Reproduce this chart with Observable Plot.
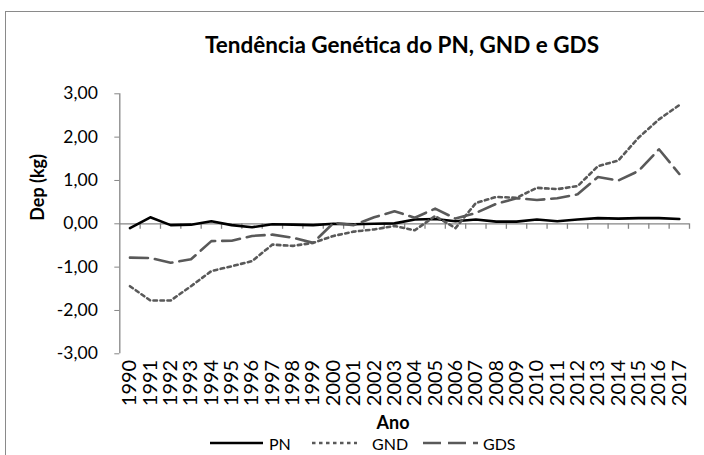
<!DOCTYPE html>
<html>
<head>
<meta charset="utf-8">
<script src="https://cdn.jsdelivr.net/npm/d3@7"></script>
<script src="https://cdn.jsdelivr.net/npm/@observablehq/plot@0.6"></script>
<style>
  html, body { margin: 0; padding: 0; background: #fff; overflow: hidden; }
  #wrap { position: relative; width: 704px; height: 455px; overflow: hidden; font-family: Lato, sans-serif; color: #000; }
  #frame { position: absolute; left: 5px; top: 11px; width: 800px; height: 800px; border: 1.5px solid #8a8a8a; box-sizing: border-box; }
  #title { position: absolute; left: 0; top: 34px; width: 804px; text-align: center; font-weight: bold; font-size: 22.5px; line-height: 22.5px; white-space: nowrap; }
  #chart { position: absolute; left: 0; top: 80px; }
  #ano { position: absolute; left: 0; top: 413px; width: 786px; text-align: center; font-weight: bold; font-size: 18px; line-height: 18px; }
  .leg { position: absolute; top: 433px; height: 20px; display: flex; align-items: center; font-size: 16px; }
  .leg svg { display: block; }
</style>
</head>
<body>
<div id="wrap">
  <div id="frame"></div>
  <div id="title">Tendência Genética do PN, GND e GDS</div>
  <div id="chart"></div>
  <div id="ano">Ano</div>
  <div id="legend"></div>
</div>
<script>
const years = [1990,1991,1992,1993,1994,1995,1996,1997,1998,1999,2000,2001,2002,2003,2004,2005,2006,2007,2008,2009,2010,2011,2012,2013,2014,2015,2016,2017];
const pn  = [-0.10, 0.15,-0.03,-0.02, 0.06,-0.03,-0.08,-0.01,-0.02,-0.03, 0.00,-0.01, 0.00, 0.01, 0.10, 0.11, 0.06, 0.10, 0.05, 0.05, 0.10, 0.06, 0.10, 0.13, 0.12, 0.13, 0.13, 0.11];
const gnd = [-1.44,-1.77,-1.77,-1.44,-1.09,-0.98,-0.86,-0.48,-0.51,-0.44,-0.28,-0.18,-0.13,-0.05,-0.15, 0.18,-0.10, 0.48, 0.62, 0.60, 0.83, 0.80, 0.87, 1.33, 1.46, 1.99, 2.41, 2.74];
const gds = [-0.78,-0.79,-0.90,-0.82,-0.40,-0.39,-0.28,-0.25,-0.32,-0.44, 0.02,-0.03, 0.15, 0.29, 0.14, 0.35, 0.12, 0.25, 0.46, 0.59, 0.55, 0.59, 0.68, 1.08, 1.00, 1.22, 1.72, 1.15];
const yTicks = [-3,-2,-1,0,1,2,3];
const seriesNames = ["PN", "GND", "GDS"];

const axisGray = "#868686";
const lineGray = "#595959";
const styles = {
  PN:  {stroke: "#000", strokeWidth: 2.6, strokeDasharray: null},
  GND: {stroke: lineGray, strokeWidth: 2.6, strokeDasharray: "3.5,3.5"},
  GDS: {stroke: lineGray, strokeWidth: 2.6, strokeDasharray: "18,7"}
};
const values = {PN: pn, GND: gnd, GDS: gds};
const boundaries = d3.range(years.length + 1).map(i => years[0] - 0.5 + i);
const fmt = d => d.toFixed(2).replace(".", ",");

const chart = Plot.plot({
  width: 704,
  height: 355,
  marginLeft: 119.3,
  marginRight: 15,
  marginTop: 13.3,
  marginBottom: 81.7,
  style: {fontFamily: "Lato, sans-serif", background: "transparent", color: "#000", overflow: "visible"},
  x: {type: "linear", domain: [boundaries[0], boundaries[boundaries.length - 1]]},
  y: {domain: [yTicks[0], yTicks[yTicks.length - 1]]},
  marks: [
    Plot.ruleX([boundaries[0]], {y1: yTicks[0], y2: yTicks[yTicks.length - 1], stroke: axisGray, strokeWidth: 1.3}),
    Plot.ruleY([0], {stroke: axisGray, strokeWidth: 1.3}),
    Plot.ruleX(boundaries.slice(1), {y1: 0, y2: 0, insetBottom: -5.5, stroke: axisGray, strokeWidth: 1.3}),
    Plot.axisY({ticks: yTicks, tickFormat: fmt, tickSize: 5, tickPadding: 17, stroke: axisGray, fill: "#000", fontSize: 17.5, label: null}),
    Plot.axisX({ticks: years, tickFormat: d => String(d), tickSize: 0, tickPadding: 6, tickRotate: -90, fontSize: 20, fill: "#000", label: null}),
    Plot.text(["Dep (kg)"], {frameAnchor: "left", dx: -82, dy: -3, rotate: -90, fontWeight: "bold", fontSize: 18, fill: "#000"}),
    ...seriesNames.map(s => Plot.line(years, {x: d => d, y: values[s], ...styles[s], strokeLinejoin: "round"}))
  ]
});
document.getElementById("chart").appendChild(chart);

const legendPos = {PN: [210, 53, 269], GND: [312, 45, 372], GDS: [423, 55, 483]};
const legend = document.getElementById("legend");
for (const s of seriesNames) {
  const [x0, w, tx] = legendPos[s];
  const sw = document.createElement("div");
  sw.className = "leg";
  sw.style.left = x0 + "px";
  const st = styles[s];
  sw.innerHTML = `<svg width="${w}" height="20"><line x1="0" x2="${w}" y1="10" y2="10" stroke="${st.stroke}" stroke-width="${st.strokeWidth}" ${st.strokeDasharray ? `stroke-dasharray="${st.strokeDasharray}"` : ""}/></svg>`;
  legend.appendChild(sw);
  const t = document.createElement("div");
  t.className = "leg";
  t.style.left = tx + "px";
  t.textContent = s;
  legend.appendChild(t);
}
</script>
</body>
</html>
